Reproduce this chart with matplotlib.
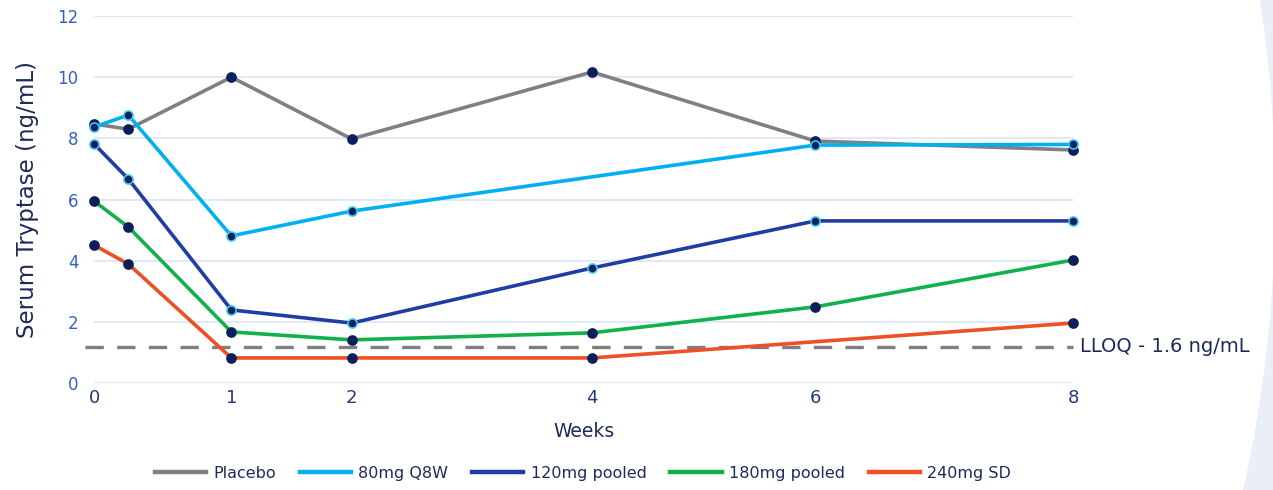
import matplotlib

matplotlib.use("Agg")
import matplotlib.pyplot as plt
from matplotlib.patches import Ellipse

# study day of each visit; ticks are labelled in weeks
visit_days = [0, 2, 8, 15, 29, 42, 57]
tick_days = [0, 8, 15, 29, 42, 57]
tick_weeks = ["0", "1", "2", "4", "6", "8"]

placebo_days = visit_days
placebo = [8.47, 8.30, 10.00, 7.98, 10.17, 7.91, 7.62]

q8w_days = [0, 2, 8, 15, 42, 57]
q8w_80mg = [8.37, 8.76, 4.81, 5.62, 7.78, 7.80]

pooled_120_days = visit_days
pooled_120mg = [7.82, 6.67, 2.39, 1.96, 3.76, 5.30, 5.30]

pooled_180_days = visit_days
pooled_180mg = [5.95, 5.10, 1.67, 1.41, 1.64, 2.49, 4.02]

sd_240_days = [0, 2, 8, 15, 29, 57]
sd_240mg = [4.51, 3.89, 0.82, 0.82, 0.82, 1.96]

lloq_drawn = 1.18
lloq_label = "LLOQ - 1.6 ng/mL"

NAVY = "#0b1f5c"
TEXT = "#1e2b5a"

series = [
    ("Placebo", placebo_days, placebo, "#808080", NAVY),
    ("80mg Q8W", q8w_days, q8w_80mg, "#00b0f0", "#3cc3f2"),
    ("120mg pooled", pooled_120_days, pooled_120mg, "#1f3ea3", "#3cc3f2"),
    ("180mg pooled", pooled_180_days, pooled_180mg, "#10b04a", NAVY),
    ("240mg SD", sd_240_days, sd_240mg, "#ee4f25", NAVY),
]

fig = plt.figure(figsize=(12.73, 4.90), dpi=100, facecolor="#eaeef6")
fig.patches.append(Ellipse((600 / 1273, 1 - 200 / 490), 1350 / 1273, 1906 / 490,
                           transform=fig.transFigure, facecolor="white",
                           edgecolor="none", zorder=-5))

ax = fig.add_axes([94 / 1273, 1 - 383 / 490, 979 / 1273, 367 / 490])
ax.set_facecolor("none")

for name, days, vals, color, edge in series:
    ax.plot(days, vals, color=color, lw=2.6, marker="o", markersize=6.5,
            markerfacecolor=NAVY, markeredgecolor=edge, markeredgewidth=1.2,
            clip_on=False, zorder=3, label=name)

ax.axhline(lloq_drawn, xmin=-0.009, xmax=1.0, color="#7f7f7f", lw=2.4,
           dashes=(5.5, 4), clip_on=False, zorder=2)
ax.text(1.007, lloq_drawn, lloq_label, transform=ax.get_yaxis_transform(),
        ha="left", va="center", fontsize=14, color=TEXT)

ax.set_xlim(0, 57)
ax.set_ylim(0, 12)
ax.set_yticks(range(0, 13, 2))
ax.set_xticks(tick_days)
ax.set_xticklabels(tick_weeks)
ax.grid(axis="y", color="#d8e1f4", lw=1.1)
ax.grid(axis="x", visible=False)
ax.set_axisbelow(True)
for side in ax.spines.values():
    side.set_visible(False)
ax.tick_params(axis="y", length=0, pad=11, labelsize=12, labelcolor="#3560c4")
ax.tick_params(axis="x", length=0, pad=4, labelsize=13, labelcolor="#24397a")

ax.set_xlabel("Weeks", fontsize=13.5, color=TEXT, labelpad=11)
ax.set_ylabel("Serum Tryptase (ng/mL)", fontsize=16.5, color=TEXT)
ax.yaxis.set_label_coords(-0.056, 0.5)

handles, labels = ax.get_legend_handles_labels()
leg_handles = [plt.Line2D([], [], color=h.get_color(), lw=3.2) for h in handles]
fig.legend(leg_handles, labels, loc="center", ncol=5,
           bbox_to_anchor=(583 / 1273, 1 - 473 / 490), frameon=False,
           fontsize=11.5, handlelength=3.2, handletextpad=0.45, columnspacing=1.5,
           labelcolor=TEXT)

fig.savefig("out.png", dpi=100, facecolor=fig.get_facecolor())
